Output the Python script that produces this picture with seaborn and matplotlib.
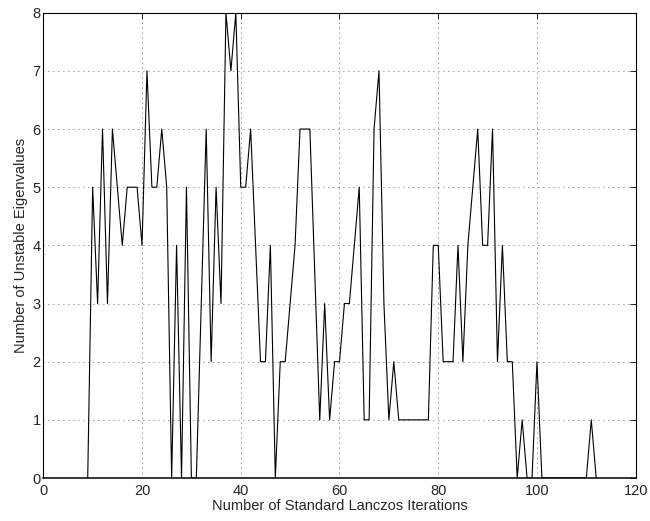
import numpy as np
import pandas as pd
import matplotlib
matplotlib.use("Agg")
import matplotlib.pyplot as plt
import seaborn as sns

# ---------------------------
# Data
# ---------------------------
iterations = [9, 10, 11, 12, 13, 14, 16, 17, 19, 20, 21, 22, 23, 24, 25, 26,
              27, 28, 29, 30, 31, 33, 34, 35, 36, 37, 38, 39, 40, 41, 42, 44,
              45, 46, 47, 48, 49, 50, 51, 52, 54, 56, 57, 58, 59, 60, 61, 62,
              64, 65, 66, 67, 68, 69, 70, 71, 72, 78, 79, 80, 81, 83, 84, 85,
              86, 88, 89, 90, 91, 92, 93, 94, 95, 96, 97, 98, 99, 100, 101,
              110, 111, 112]
unstable = [0, 5, 3, 6, 3, 6, 4, 5, 5, 4, 7, 5, 5, 6, 5, 0,
            4, 0, 5, 0, 0, 6, 2, 5, 3, 8, 7, 8, 5, 5, 6, 2,
            2, 4, 0, 2, 2, 3, 4, 6, 6, 1, 3, 1, 2, 2, 3, 3,
            5, 1, 1, 6, 7, 3, 1, 2, 1, 1, 4, 4, 2, 2, 4, 2,
            4, 6, 4, 4, 6, 2, 4, 2, 2, 0, 1, 0, 0, 2, 0,
            0, 1, 0]

x_ticks = [0, 20, 40, 60, 80, 100, 120]
y_ticks = [0, 1, 2, 3, 4, 5, 6, 7, 8]

df = pd.DataFrame({"iter": iterations, "unstable": unstable})

# ---------------------------
# Style
# ---------------------------
sns.set_style("white")
plt.rcParams["font.family"] = ["Liberation Sans", "DejaVu Sans"]
plt.rcParams["xtick.direction"] = "in"
plt.rcParams["ytick.direction"] = "in"
plt.rcParams["xtick.top"] = True
plt.rcParams["ytick.right"] = True

fig = plt.figure(figsize=(6.5, 5.21), dpi=100)
ax = fig.add_axes([0.0666, 0.0825, 0.9114, 0.8931])

sns.lineplot(data=df, x="iter", y="unstable", color="black",
             linewidth=0.8, ax=ax, estimator=None, sort=False)

ax.set_xlim(0, 120)
ax.set_ylim(0, 8)
ax.set_xticks(x_ticks)
ax.set_yticks(y_ticks)
ax.tick_params(labelsize=10.5, length=4, width=0.6, color="black",
               top=True, right=True)
ax.tick_params(axis="x", pad=4)
ax.tick_params(axis="y", pad=2)

ax.grid(True, color="#333333", linestyle=(0, (1, 5)), linewidth=0.6)
for side in ax.spines.values():
    side.set_color("black")
    side.set_linewidth(0.8)
ax.spines["bottom"].set_linewidth(1.1)

ax.set_xlabel("Number of Standard Lanczos Iterations", fontsize=10.5, labelpad=1)
ax.set_ylabel("Number of Unstable Eigenvalues", fontsize=10.5, labelpad=3)

fig.savefig("out.png", dpi=100, facecolor="white")
